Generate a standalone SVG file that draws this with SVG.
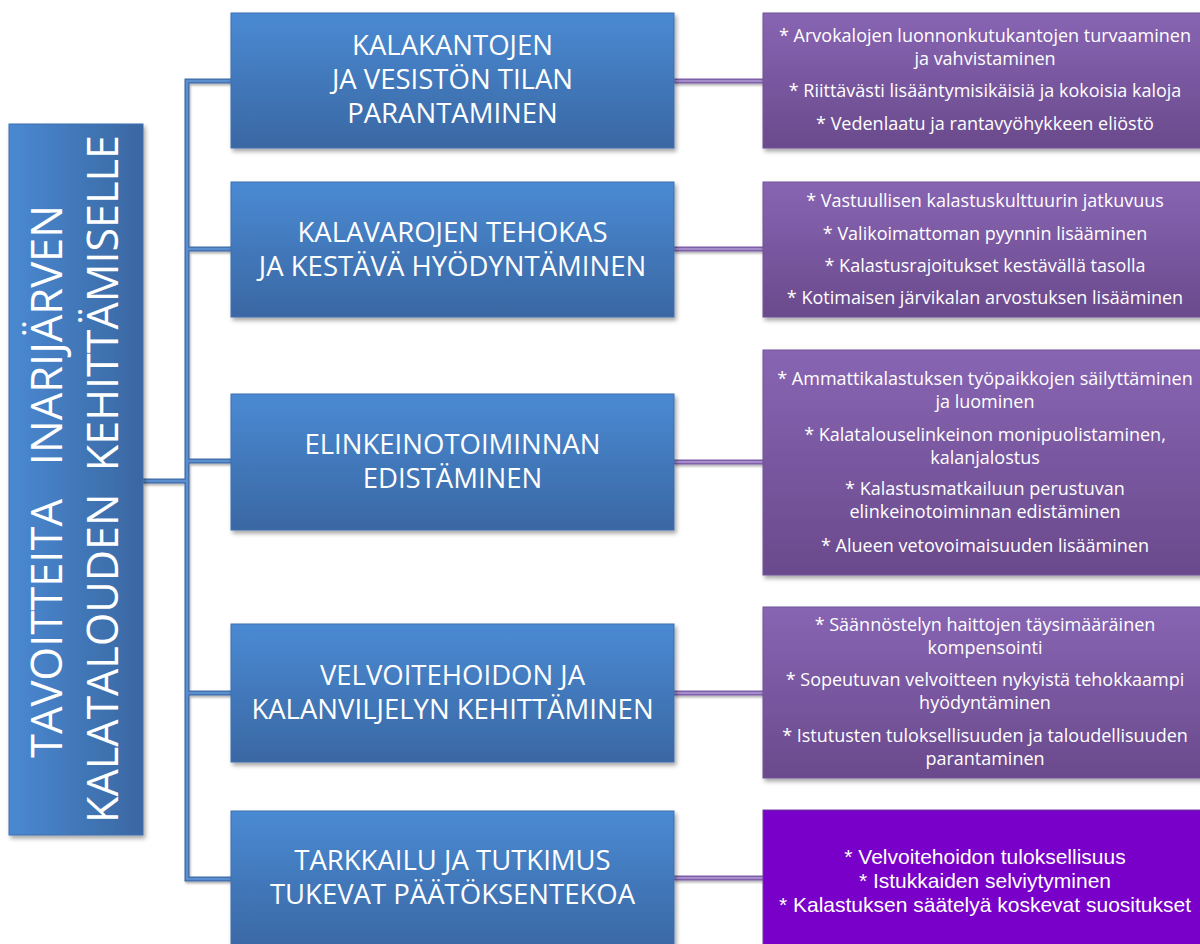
<svg xmlns="http://www.w3.org/2000/svg" width="1200" height="944" viewBox="0 0 1200 944">
  <defs>
    <linearGradient id="gBlue" x1="0" y1="0" x2="0" y2="1">
      <stop offset="0" stop-color="#4a8ad3"/>
      <stop offset="1" stop-color="#3a67a3"/>
    </linearGradient>
    <linearGradient id="gLeft" x1="0" y1="0" x2="1" y2="0">
      <stop offset="0" stop-color="#4a89d2"/>
      <stop offset="1" stop-color="#3a67a1"/>
    </linearGradient>
    <linearGradient id="gPurple" x1="0" y1="0" x2="0" y2="1">
      <stop offset="0" stop-color="#8865b3"/>
      <stop offset="1" stop-color="#6a4a8c"/>
    </linearGradient>
    <filter id="sh" x="-5%" y="-5%" width="115%" height="120%">
      <feDropShadow dx="2" dy="3" stdDeviation="2" flood-color="#000" flood-opacity="0.35"/>
    </filter>
    <filter id="lsh" x="-10%" y="-10%" width="130%" height="140%">
      <feDropShadow dx="1" dy="2" stdDeviation="1" flood-color="#000" flood-opacity="0.3"/>
    </filter>
  </defs>
  <style>
    .blue { fill: url(#gBlue); stroke: #3f6fae; stroke-width: 1; }
    .purp { fill: url(#gPurple); stroke: #6e5296; stroke-width: 1; }
    .bt { font-family: "Open Sans", "Liberation Sans", sans-serif; font-size: 27.5px; fill: #ffffff; text-anchor: middle; }
    .pt { font-family: "Open Sans", "Liberation Sans", sans-serif; font-size: 18px; fill: #ffffff; text-anchor: middle; }
    .at { font-family: "Liberation Sans", Arial, sans-serif; font-size: 21px; fill: #ffffff; text-anchor: middle; }
    .lt { font-family: "Open Sans", "Liberation Sans", sans-serif; font-size: 44px; fill: #ffffff; text-anchor: middle; }
    .cb { fill: none; stroke: #3d6aa6; stroke-width: 5; }
    .cbi { fill: none; stroke: #5b8fd0; stroke-width: 2.5; }
    .cp { fill: none; stroke: #7e5fa8; stroke-width: 5; }
    .cpi { fill: none; stroke: #a58ccb; stroke-width: 2; }
  </style>

  <g id="connectors">
    <g filter="url(#lsh)">
      <path class="cb" d="M231,81 H187 V879 H231 M187,249 H231 M187,461 H231 M187,693 H231"/>
      <path class="cb" d="M143,481 H187"/>
    </g>
    <path class="cbi" d="M231,81 H187 V879 H231 M187,249 H231 M187,461 H231 M187,693 H231"/>
    <path class="cbi" d="M143,481 H187" stroke="#4677b8"/>
    <g filter="url(#lsh)">
      <path class="cp" d="M674,81 H763 M674,249 H763 M674,462 H763 M674,693 H763 M674,878 H763"/>
    </g>
    <path class="cpi" d="M674,81 H763 M674,249 H763 M674,462 H763 M674,693 H763 M674,878 H763"/>
  </g>

  <g id="root">
    <rect x="9" y="124" width="134" height="711" fill="url(#gLeft)" stroke="#3f6fae" stroke-width="1" filter="url(#sh)"/>
    <text class="lt" xml:space="preserve" transform="translate(62,481.5) rotate(-90)" textLength="553" lengthAdjust="spacingAndGlyphs">TAVOITTEITA   INARIJÄRVEN</text>
    <text class="lt" xml:space="preserve" transform="translate(118,479) rotate(-90)" textLength="688" lengthAdjust="spacingAndGlyphs">KALATALOUDEN  KEHITTÄMISELLE</text>
  </g>

  <g id="goal1">
    <rect class="blue" x="231" y="13" width="443" height="135" filter="url(#sh)"/>
    <text class="bt" x="452.5" y="55">KALAKANTOJEN</text>
    <text class="bt" x="452.5" y="89">JA VESISTÖN TILAN</text>
    <text class="bt" x="452.5" y="123">PARANTAMINEN</text>
  </g>
  <g id="goal2">
    <rect class="blue" x="231" y="182" width="443" height="135" filter="url(#sh)"/>
    <text class="bt" x="452.5" y="242">KALAVAROJEN TEHOKAS</text>
    <text class="bt" x="452.5" y="276">JA KESTÄVÄ HYÖDYNTÄMINEN</text>
  </g>
  <g id="goal3">
    <rect class="blue" x="231" y="394" width="443" height="136" filter="url(#sh)"/>
    <text class="bt" x="452.5" y="454">ELINKEINOTOIMINNAN</text>
    <text class="bt" x="452.5" y="488">EDISTÄMINEN</text>
  </g>
  <g id="goal4">
    <rect class="blue" x="231" y="624" width="443" height="138" filter="url(#sh)"/>
    <text class="bt" x="452.5" y="685">VELVOITEHOIDON JA</text>
    <text class="bt" x="452.5" y="719">KALANVILJELYN KEHITTÄMINEN</text>
  </g>
  <g id="goal5">
    <rect class="blue" x="231" y="811" width="443" height="140" filter="url(#sh)"/>
    <text class="bt" x="452.5" y="870">TARKKAILU JA TUTKIMUS</text>
    <text class="bt" x="452.5" y="904">TUKEVAT PÄÄTÖKSENTEKOA</text>
  </g>

  <g id="detail1">
    <rect class="purp" x="763" y="13" width="445" height="135" filter="url(#sh)"/>
    <text class="pt" x="985" y="42">* Arvokalojen luonnonkutukantojen turvaaminen</text>
    <text class="pt" x="985" y="65">ja vahvistaminen</text>
    <text class="pt" x="985" y="97">* Riittävästi lisääntymisikäisiä ja kokoisia kaloja</text>
    <text class="pt" x="985" y="130">* Vedenlaatu ja rantavyöhykkeen eliöstö</text>
  </g>
  <g id="detail2">
    <rect class="purp" x="763" y="182" width="445" height="135" filter="url(#sh)"/>
    <text class="pt" x="985" y="207">* Vastuullisen kalastuskulttuurin jatkuvuus</text>
    <text class="pt" x="985" y="240">* Valikoimattoman pyynnin lisääminen</text>
    <text class="pt" x="985" y="272">* Kalastusrajoitukset kestävällä tasolla</text>
    <text class="pt" x="985" y="304">* Kotimaisen järvikalan arvostuksen lisääminen</text>
  </g>
  <g id="detail3">
    <rect class="purp" x="763" y="350" width="445" height="225" filter="url(#sh)"/>
    <text class="pt" x="985" y="385">* Ammattikalastuksen työpaikkojen säilyttäminen</text>
    <text class="pt" x="985" y="408">ja luominen</text>
    <text class="pt" x="985" y="441">* Kalatalouselinkeinon monipuolistaminen,</text>
    <text class="pt" x="985" y="464">kalanjalostus</text>
    <text class="pt" x="985" y="495">* Kalastusmatkailuun perustuvan</text>
    <text class="pt" x="985" y="518">elinkeinotoiminnan edistäminen</text>
    <text class="pt" x="985" y="552">* Alueen vetovoimaisuuden lisääminen</text>
  </g>
  <g id="detail4">
    <rect class="purp" x="763" y="607" width="445" height="171" filter="url(#sh)"/>
    <text class="pt" x="985" y="631">* Säännöstelyn haittojen täysimääräinen</text>
    <text class="pt" x="985" y="654">kompensointi</text>
    <text class="pt" x="985" y="686">* Sopeutuvan velvoitteen nykyistä tehokkaampi</text>
    <text class="pt" x="985" y="709">hyödyntäminen</text>
    <text class="pt" x="985" y="742">* Istutusten tuloksellisuuden ja taloudellisuuden</text>
    <text class="pt" x="985" y="765">parantaminen</text>
  </g>
  <g id="detail5">
    <rect x="763" y="810" width="445" height="140" fill="#7800c8" stroke="#6a3a9a" stroke-width="1"/>
    <text class="at" x="985" y="864">* Velvoitehoidon tuloksellisuus</text>
    <text class="at" x="985" y="888">* Istukkaiden selviytyminen</text>
    <text class="at" x="985" y="912">* Kalastuksen säätelyä koskevat suositukset</text>
  </g>
</svg>
